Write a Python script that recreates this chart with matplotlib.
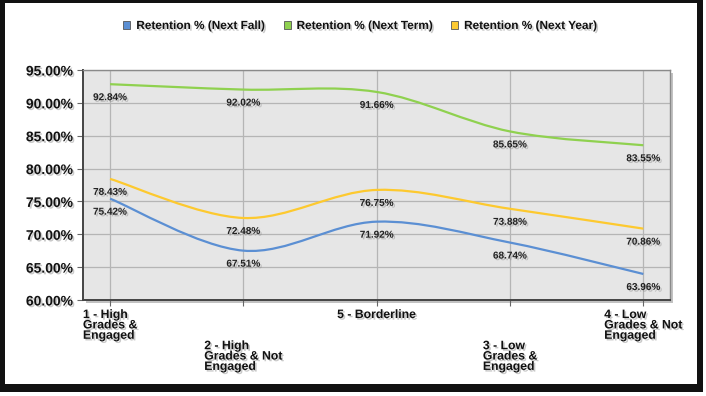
import numpy as np
import matplotlib
matplotlib.use("Agg")
from matplotlib import pyplot as plt
from matplotlib.path import Path
from matplotlib.patches import PathPatch, Rectangle, Patch
import matplotlib.patheffects as pe

# ================================================================
# DATA
# ================================================================
CATEGORIES = [
    "1 - High\nGrades &\nEngaged",
    "2 - High\nGrades & Not\nEngaged",
    "5 - Borderline",
    "3 - Low\nGrades &\nEngaged",
    "4 - Low\nGrades & Not\nEngaged",
]
SERIES_NAMES = [
    "Retention % (Next Fall)",
    "Retention % (Next Term)",
    "Retention % (Next Year)",
]
NEXT_FALL = [75.42, 67.51, 71.92, 68.74, 63.96]
NEXT_TERM = [92.84, 92.02, 91.66, 85.65, 83.55]
NEXT_YEAR = [78.43, 72.48, 76.75, 73.88, 70.86]
Y_TICKS = [60, 65, 70, 75, 80, 85, 90, 95]

COLORS = ["#5b8fd3", "#8fd14f", "#fdc92f"]

LABEL_FONT = ["Liberation Sans", "DejaVu Sans"]
NARROW_FONT = ["Liberation Sans Narrow", "Liberation Sans", "DejaVu Sans"]

SHADOW = [pe.withSimplePatchShadow(offset=(1.2, -1.2), shadow_rgbFace="#888888", alpha=0.45)]


def smooth_path(xs, ys):
    # catmull-rom through the points, drawn as cubic bezier segments
    pts = np.column_stack([xs, ys]).astype(float)
    ext = np.vstack([pts[0], pts, pts[-1]])
    verts = [pts[0]]
    codes = [Path.MOVETO]
    for i in range(len(pts) - 1):
        p0, p1, p2, p3 = ext[i], ext[i + 1], ext[i + 2], ext[i + 3]
        c1 = p1 + (p2 - p0) / 6.0
        c2 = p2 - (p3 - p1) / 6.0
        verts += [c1, c2, p2]
        codes += [Path.CURVE4] * 3
    return Path(verts, codes)


# ================================================================
# FIGURE
# ================================================================
W, H = 706, 396
fig = plt.figure(figsize=(W / 100, H / 100), dpi=100)
fig.patch.set_facecolor("white")

# black frame with shadow
fig.patches.append(Rectangle((0, 4 / H), 703 / W, 1 - 4 / H, transform=fig.transFigure,
                             facecolor="#111111", edgecolor="none", zorder=-10))
fig.patches.append(Rectangle((5 / W, 12 / H), 692 / W, (384 - 3) / H, transform=fig.transFigure,
                             facecolor="white", edgecolor="none", zorder=-9))

ax_l, ax_r, ax_t, ax_b = 83, 670, 70, 300
ax = fig.add_axes([ax_l / W, 1 - ax_b / H, (ax_r - ax_l) / W, (ax_b - ax_t) / H])

# plot area shadow
fig.patches.append(Rectangle(((ax_l + 3) / W, 1 - (ax_b + 3) / H), (ax_r - ax_l) / W, (ax_b - ax_t) / H,
                             transform=fig.transFigure, facecolor="#9a9a9a", edgecolor="none",
                             alpha=0.6, zorder=-5))

ax.set_facecolor("#e6e6e6")
x = np.arange(len(CATEGORIES))

for vals, color in zip([NEXT_FALL, NEXT_TERM, NEXT_YEAR], COLORS):
    ax.add_patch(PathPatch(smooth_path(x, vals), facecolor="none", edgecolor=color, lw=1.6, zorder=3))
    for xi, v in zip(x, vals):
        ax.annotate(f"{v:.2f}%", (xi, v), xytext=(0, -13), textcoords="offset pixels",
                    ha="center", va="center", fontsize=7.2, fontweight="bold",
                    family=NARROW_FONT, color="#222222", zorder=4, path_effects=SHADOW)

ax.set_xlim(-0.203, 4.2)
ax.set_ylim(60, 95)
ax.set_yticks(Y_TICKS)
ax.set_yticklabels([f"{t:.2f}%" for t in Y_TICKS], fontsize=10, fontweight="bold",
                   family=LABEL_FONT, color="#111111")
for lab in ax.get_yticklabels():
    lab.set_path_effects(SHADOW)

ax.set_xticks(x)
xlabels = [c if i % 2 == 0 else "\n\n\n" + c for i, c in enumerate(CATEGORIES)]
ax.set_xticklabels(xlabels, fontsize=8.8, fontweight="bold", family=LABEL_FONT,
                   color="#111111", linespacing=0.82, va="top")
for lab in ax.get_xticklabels():
    lab.set_multialignment("left")
    lab.set_path_effects(SHADOW)

ax.tick_params(axis="both", length=4, width=0.8, color="#666666", pad=3)
ax.tick_params(axis="x", pad=2.5)

ax.grid(True, color="#b5b5b5", lw=0.9)
ax.set_axisbelow(True)
for side in ["top", "right"]:
    ax.spines[side].set_color("#8a8a8a")
    ax.spines[side].set_linewidth(1.0)
for side in ["left", "bottom"]:
    ax.spines[side].set_color("#444444")
    ax.spines[side].set_linewidth(1.4)

handles = [Patch(facecolor=c, edgecolor="#555555", lw=0.6) for c in COLORS]
leg = fig.legend(handles, SERIES_NAMES, loc="center", bbox_to_anchor=(360 / W, 1 - 26 / H),
                 ncol=3, frameon=False, handlelength=0.6, handleheight=0.6, handletextpad=0.5,
                 columnspacing=1.6, prop={"family": LABEL_FONT, "weight": "bold", "size": 8.5})
for t in leg.get_texts():
    t.set_path_effects(SHADOW)
    t.set_color("#111111")

fig.savefig("out.png", dpi=100)
